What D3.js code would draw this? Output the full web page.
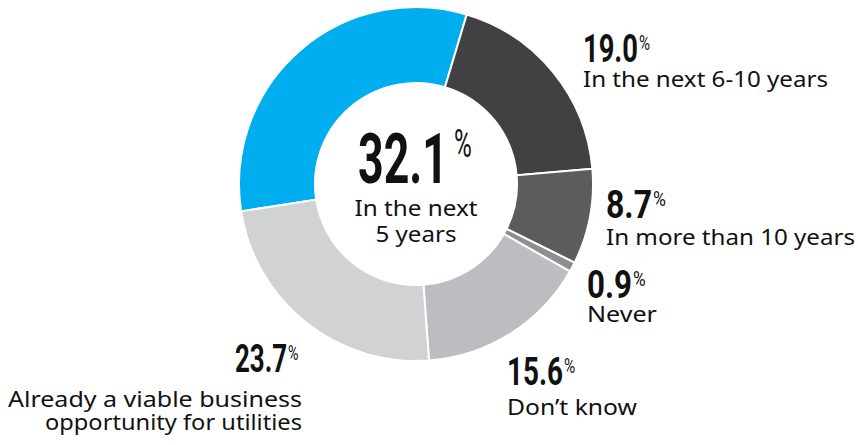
<!DOCTYPE html>
<html><head><meta charset="utf-8">
<script src="https://cdn.jsdelivr.net/npm/d3@7"></script>
<style>
html,body{margin:0;padding:0;background:#fff;}
svg{display:block;}
.lbl{font-family:"Noto Sans",sans-serif;fill:#111;}
.num{font-family:Roboto,"Liberation Sans",sans-serif;font-weight:700;fill:#111;}
</style></head><body>
<svg id="c" width="858" height="445"></svg>
<script>
const categories = ["In the next 5 years","In the next 6-10 years","In more than 10 years","Never","Don\u2019t know","Already a viable business opportunity for utilities"];
const values = [32.1, 19.0, 8.7, 0.9, 15.6, 23.7];
const valueLabels = ["32.1","19.0","8.7","0.9","15.6","23.7"];
const colors = ["#00AEEF","#414143","#5B5C5E","#8E8F91","#BCBDC0","#D1D2D4"];

const svg = d3.select("#c");
const cx = 416, cy = 184, rOut = 177, rIn = 101;
const startDeg = -98.9;
const pie = d3.pie().sort(null).value(d => d)
  .startAngle(startDeg * Math.PI / 180)
  .endAngle((startDeg + 360) * Math.PI / 180);
const arc = d3.arc().innerRadius(rIn).outerRadius(rOut);
const g = svg.append("g").attr("transform", `translate(${cx},${cy})`);
g.selectAll("path").data(pie(values)).enter().append("path")
  .attr("d", arc).attr("fill", (d, i) => colors[i])
  .attr("stroke", "#fff").attr("stroke-width", 2);

const layout = [
  {x: 358, y: 183, w: 90, size: 70, pct: 38, pctDx: 6, pctUp: 26, lines: ["In the next", "5 years"], lw: [123, 81], lx: 416, ly: 216, lh: 26, anchor: "middle"},
  {x: 583, y: 62, w: 55, size: 38, pct: 21, pctDx: 1, pctUp: 12, lines: ["In the next 6-10 years"], lw: [245], lx: 583, ly: 87, lh: 24, anchor: "start"},
  {x: 606, y: 218, w: 46, size: 38, pct: 21, pctDx: 1, pctUp: 12, lines: ["In more than 10 years"], lw: [249], lx: 606, ly: 245, lh: 24, anchor: "start"},
  {x: 587, y: 298, w: 45, size: 38, pct: 21, pctDx: 1, pctUp: 12, lines: ["Never"], lw: [70], lx: 587, ly: 322, lh: 24, anchor: "start"},
  {x: 507, y: 385, w: 56, size: 38, pct: 21, pctDx: 1, pctUp: 12, lines: ["Don\u2019t know"], lw: [130], lx: 507, ly: 415, lh: 24, anchor: "start"},
  {x: 235, y: 372, w: 52, size: 38, pct: 21, pctDx: 1, pctUp: 12, lines: ["Already a viable business", "opportunity for utilities"], lw: [294, 257], lx: 302, ly: 407, lh: 23, anchor: "end"}
];

layout.forEach((L, i) => {
  const t = svg.append("text").attr("class", "num");
  const n = t.append("tspan").attr("font-size", L.size).text(valueLabels[i]);
  const natural = n.node().getComputedTextLength();
  const s = L.w / natural;
  t.append("tspan").attr("font-size", L.pct).attr("font-weight", 400)
    .attr("dx", L.pctDx / s).attr("dy", -L.pctUp).text("%");
  t.attr("transform", `translate(${L.x},${L.y}) scale(${s},1)`);
  L.lines.forEach((txt, j) => {
    svg.append("text").attr("class", "lbl")
      .attr("x", L.lx).attr("y", L.ly + j * L.lh)
      .attr("text-anchor", L.anchor)
      .attr("font-size", 22.5)
      .attr("textLength", L.lw[j]).attr("lengthAdjust", "spacingAndGlyphs")
      .text(txt);
  });
});
</script></body></html>
